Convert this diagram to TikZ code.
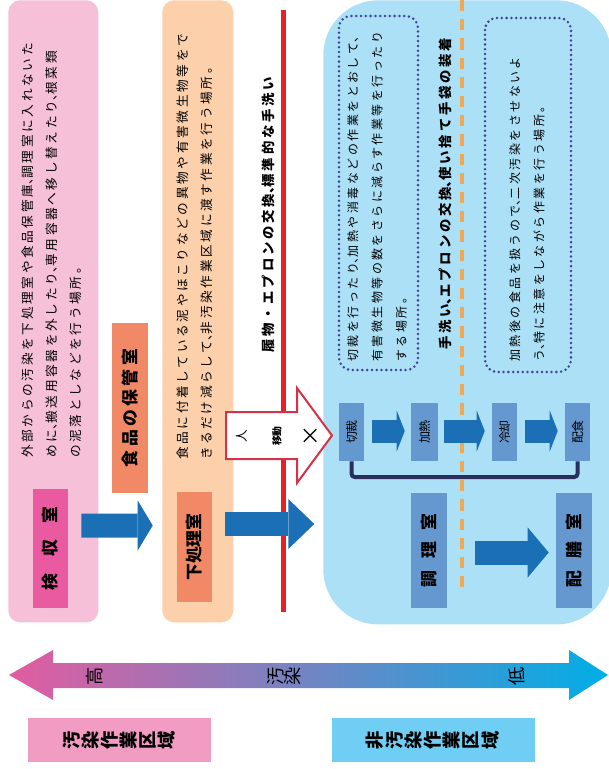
\documentclass[tikz,border=0pt]{standalone}
\usepackage{fontspec}
\usepackage{graphicx}
\usepackage{tikz}
\usetikzlibrary{arrows.meta, calc}

\setmainfont{Noto Sans CJK JP}
\newfontfamily\jpbody{Noto Sans CJK JP}[LetterSpace=21]
\newfontfamily\jphalf{Noto Sans CJK JP}[LetterSpace=21, RawFeature=+halt]
\newcommand\ten{{\jphalf 、}}
\newcommand\vt[1]{\rotatebox{90}{#1}}

\definecolor{pinkbg}{RGB}{246,192,216}
\definecolor{peachbg}{RGB}{253,208,172}
\definecolor{bluebg}{RGB}{172,224,246}
\definecolor{kenshupink}{RGB}{234,90,160}
\definecolor{salmon}{RGB}{241,136,102}
\definecolor{arrowblue}{RGB}{26,111,181}
\definecolor{stepblue}{RGB}{101,152,206}
\definecolor{bracketnavy}{RGB}{42,46,92}
\definecolor{dotnavy}{RGB}{62,66,160}
\definecolor{dashorange}{RGB}{240,168,84}
\definecolor{linered}{RGB}{232,32,42}
\definecolor{arrowred}{RGB}{212,50,72}
\definecolor{gradpink}{RGB}{226,92,160}
\definecolor{gradmid}{RGB}{166,140,192}
\definecolor{gradcyan}{RGB}{0,174,230}
\definecolor{zonepink}{RGB}{242,156,195}
\definecolor{zoneblue}{RGB}{112,206,245}

\tikzset{
  zonebg/.style={anchor=north west, inner sep=0},
  room/.style={fill=salmon, inner sep=0, font=\bfseries\fontsize{12}{12}\selectfont},
  stepbox/.style={fill=stepblue, inner sep=0, minimum width=0.625cm, minimum height=1.45cm,
    font=\fontsize{8.5}{8.5}\selectfont},
  bodytext/.style={rotate=90, anchor=north west, inner sep=0, align=left,
    font=\jpbody\fontsize{9}{17}\selectfont},
  notetext/.style={bodytext, font=\jpbody\fontsize{8.5}{17.3}\selectfont},
  ruletext/.style={bodytext, font=\jpbody\bfseries\fontsize{9.5}{17}\selectfont},
  bigarrow/.style={draw=arrowblue, line width=0.6cm,
    -{Triangle[length=#1, width=1.25cm, line width=0pt]}},
  bigarrow/.default=0.5cm,
  smallarrow/.style={draw=arrowblue, line width=0.575cm,
    -{Triangle[length=0.2cm, width=1.025cm, line width=0pt]}},
  hollowarrow/.style={draw=arrowred, fill=white, line width=0.05cm},
  dotbox/.style={draw=dotnavy, line width=0.07cm, line cap=round,
    dash pattern=on 0pt off 0.12cm, rounded corners=0.3cm},
  zonechar/.style={rotate=90, inner sep=0, font=\bfseries\fontsize{13}{13}\selectfont},
  scalechar/.style={rotate=90, inner sep=0, font=\fontsize{13}{13}\selectfont},
}

\begin{document}
\begin{tikzpicture}[x=0.025cm, y=-0.025cm]
    \useasboundingbox (0,0) rectangle (608,769);

    % Three working zones
    \node[zonebg, fill=pinkbg, rounded corners=0.3cm, minimum width=2.25cm, minimum height=15.55cm] (dirtyzone) at (8,0) {};
    \node[zonebg, fill=peachbg, rounded corners=0.3cm, minimum width=1.775cm, minimum height=15.55cm] (prepzone) at (162,0) {};
    \node[zonebg, fill=bluebg, rounded corners=1.375cm, minimum width=7.2cm, minimum height=15.6cm] (cleanzone) at (323,0) {};

    % Descriptions
    \node[bodytext] (dirtytext) at (22,458) {外部からの汚染を下処理室や食品保管庫\ten 調理室に入れないた\\
      めに\ten 搬送用容器を外したり\ten 専用容器へ移し替えたり\ten 根菜類\\
      の泥落としなどを行う場所。};
    \node[bodytext] (preptext) at (177,460) {食品に付着している泥やほこりなどの異物や有害微生物等をで\\
      きるだけ減らして\ten 非汚染作業区域に渡す作業を行う場所。};

    % Rooms
    \node[room, fill=kenshupink, minimum width=0.875cm, minimum height=2.975cm] (kenshu) at (50.5,548.5) {\vt{検　収　室}};
    \node[room, minimum width=0.9cm, minimum height=4.25cm] (hokan) at (130,408) {\vt{\addfontfeature{LetterSpace=20}食品の保管室}};
    \node[room, minimum width=0.875cm, minimum height=2.75cm] (shitashori) at (194.5,547) {\vt{下処理室}};

    % Border of the clean zone
    \draw[linered, line width=0.125cm] (283,10) -- (283,612);
    \node[ruletext] (borderrule) at (262,353) {履物・エプロンの交換\ten 標準的な手洗い};

    % No passage for people
    \draw[hollowarrow] (226,412) -- (297,412) -- (297,388) -- (332,435.5) -- (297,483) -- (297,459) -- (226,459) -- cycle;
    \node[rotate=90, font=\fontsize{9}{9}\selectfont] (hito) at (242,436) {人};
    \node[rotate=90, font=\bfseries\fontsize{7}{7}\selectfont] (idou) at (277,436) {移動};
    \node[rotate=90, font=\fontsize{15}{15}\selectfont] (batsu) at (311,436) {×};

    % Clean zone: notes
    \draw[dotbox] (339,16) rectangle (418,370);
    \draw[dotbox] (485,18) rectangle (571,372);
    \node[notetext] (cooktext) at (347,362) {切裁を行ったり\ten 加熱や消毒などの作業をとおして\ten\\
      有害微生物等の数をさらに減らす作業等を行ったり\\
      する場所。};
    \node[notetext] (servetext) at (509,362) {加熱後の食品を扱うので\ten 二次汚染をさせないよ\\
      う\ten 特に注意をしながら作業を行う場所。};
    \node[ruletext] (handrule) at (439,350) {手洗い\ten エプロンの交換\ten 使い捨て手袋の装着};

    % Steps
    \node[stepbox] (qiesai) at (351.5,432) {\vt{切裁}};
    \node[stepbox, minimum width=0.675cm] (kanetsu) at (424.5,432) {\vt{加熱}};
    \node[stepbox] (reikyaku) at (504.5,432) {\vt{冷却}};
    \node[stepbox] (haishoku) at (577.5,432) {\vt{配食}};
    \coordinate (bracketbottom) at (0,477);
    \draw[bracketnavy, line width=0.1cm, rounded corners=0.08cm] (qiesai.south) -- (qiesai.south |- bracketbottom)
      -- (haishoku.south |- bracketbottom) -- (haishoku.south);

    \node[room, fill=stepblue, minimum width=0.9cm, minimum height=2.875cm] (chori) at (429,550.5) {\vt{調\hspace{0.7em}理\hspace{0.7em}室}};
    \node[room, fill=stepblue, minimum width=0.9cm, minimum height=2.875cm] (haizen) at (574,550.5) {\vt{配\hspace{0.7em}膳\hspace{0.7em}室}};

    \draw[dashorange, line width=0.1cm, dash pattern=on 0.28cm off 0.2cm] (462,0) -- (462,590);

    % Flow
    \draw[bigarrow=0.375cm] ($(kenshu.east)+(13,-23)$) -- ($(shitashori.west)+(-24,-21.5)$);
    \draw[bigarrow=0.65cm] ($(shitashori.east)+(13,-23)$) -- ($(shitashori.east)+(102,-23)$);
    \draw[smallarrow] ($(qiesai.east)+(8,-1)$) -- ($(kanetsu.west)+(-6,-1)$);
    \draw[smallarrow] ($(kanetsu.east)+(6,-1)$) -- ($(reikyaku.west)+(-7,-1)$);
    \draw[smallarrow] ($(reikyaku.east)+(8,-1)$) -- ($(haishoku.west)+(-7,-1)$);
    \draw[bigarrow=0.525cm] ($(chori.east)+(28,2)$) -- ($(haizen.west)+(-7,2)$);

    % Contamination scale
    \shade[left color=gradpink, middle color=gradmid, right color=gradcyan]
      (9,675) -- (53,650) -- (53,663) -- (569,663) -- (569,650) -- (608,675)
      -- (569,700) -- (569,688) -- (53,688) -- (53,700) -- cycle;
    \node[scalechar] (takai) at (95,676) {高};
    \foreach \c [count=\i] in {汚,染}
      \node[scalechar] (osenlabel-\i) at (259+17*\i,676) {\c};
    \node[scalechar] (hikui) at (517,676) {低};

    % Zone names
    \node[fill=zonepink, minimum width=4.575cm, minimum height=1.1cm] (osen) at (119.5,740) {};
    \foreach \c [count=\i] in {汚,染,作,業,区,域}
      \node[zonechar] (osen-\i) at (53+19*\i,740) {\c};
    \node[fill=zoneblue, minimum width=5.075cm, minimum height=1.1cm] (hiosen) at (433.5,740) {};
    \foreach \c [count=\i] in {非,汚,染,作,業,区,域}
      \node[zonechar] (hiosen-\i) at (356+19.2*\i,740) {\c};

\end{tikzpicture}
\end{document}
